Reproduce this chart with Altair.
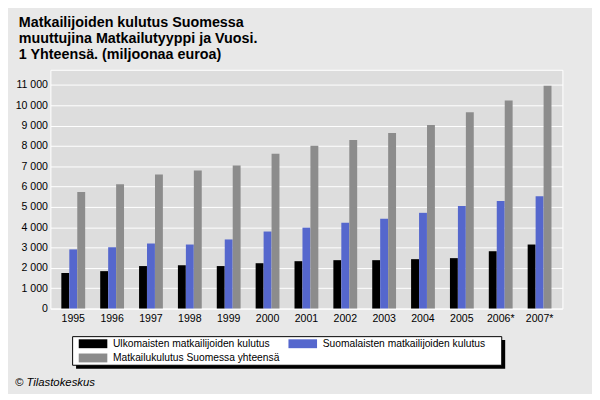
import altair as alt
import pandas as pd

years = ["1995", "1996", "1997", "1998", "1999", "2000", "2001", "2002",
         "2003", "2004", "2005", "2006*", "2007*"]
series = ["Ulkomaisten matkailijoiden kulutus",
          "Suomalaisten matkailijoiden kulutus",
          "Matkailukulutus Suomessa yhteensä"]
ulkomaiset = [1750, 1840, 2090, 2130, 2090, 2230, 2330, 2380, 2380, 2430, 2480, 2820, 3150]
suomalaiset = [2910, 3010, 3200, 3150, 3400, 3790, 3980, 4220, 4420, 4710, 5050, 5290, 5530]
yhteensa = [5730, 6120, 6600, 6790, 7040, 7620, 8010, 8300, 8640, 9030, 9660, 10240, 10970]
colors = ["#000000", "#5567cd", "#8c8c8c"]
y_ticks = [0, 1000, 2000, 3000, 4000, 5000, 6000, 7000, 8000, 9000, 10000, 11000]
title_lines = ["Matkailijoiden kulutus Suomessa",
               "muuttujina Matkailutyyppi ja Vuosi.",
               "1 Yhteensä. (miljoonaa euroa)"]
footer = "© Tilastokeskus"

rows = []
for s, vals in zip(series, [ulkomaiset, suomalaiset, yhteensa]):
    for yv, v in zip(years, vals):
        rows.append({"Vuosi": yv, "Sarja": s, "Arvo": v})
df = pd.DataFrame(rows)

FONT = "Liberation Sans"

bars = alt.Chart(df).mark_bar(size=8).encode(
    x=alt.X("Vuosi:N", sort=years, title=None,
            scale=alt.Scale(paddingInner=0.385, paddingOuter=0.28),
            axis=alt.Axis(labelAngle=0, ticks=False, domain=False, grid=False,
                          labelFont=FONT, labelFontSize=10.7, labelColor="#000000",
                          labelPadding=5)),
    xOffset=alt.XOffset("Sarja:N", sort=series,
                        scale=alt.Scale(paddingInner=0, paddingOuter=0)),
    y=alt.Y("Arvo:Q", title=None,
            scale=alt.Scale(domain=[0, 11750], nice=False),
            axis=alt.Axis(values=y_ticks, ticks=False, domain=False,
                          gridColor="#ffffff", gridWidth=1, gridOpacity=1,
                          labelFont=FONT, labelFontSize=10.7, labelColor="#000000",
                          labelPadding=3,
                          labelExpr="replace(format(datum.value, ','), ',', ' ')")),
    color=alt.Color("Sarja:N", sort=series,
                    scale=alt.Scale(domain=series, range=colors),
                    legend=alt.Legend(
                        title=None, orient="none", legendX=22, legendY=266.3,
                        columns=2, direction="horizontal",
                        columnPadding=7.6, rowPadding=3.6,
                        symbolType="M-1,-1H5.44V1H-1Z", symbolSize=81,
                        symbolStrokeWidth=0, labelOffset=25, labelLimit=0,
                        labelFont=FONT, labelFontSize=10.4, labelColor="#000000",
                        padding=6)),
)

one = pd.DataFrame({"t": [footer]})
shadow = alt.Chart(one).mark_rect(color="#000000").encode(
    x=alt.value(26), x2=alt.value(461), y=alt.value(274), y2=alt.value(303)
)
legend_box = alt.Chart(one).mark_rect(
    fill="#ffffff", stroke="#000000", strokeWidth=1
).encode(
    x=alt.value(22.5), x2=alt.value(457.5), y=alt.value(270.5), y2=alt.value(299.5)
)
foot = alt.Chart(one).mark_text(
    align="left", baseline="alphabetic", font=FONT, fontSize=11.5,
    fontStyle="italic", color="#000000"
).encode(text="t:N", x=alt.value(-36), y=alt.value(321))

chart = alt.layer(shadow, legend_box, bars, foot).properties(
    width=519, height=242,
    title=alt.TitleParams(text=title_lines, anchor="start", frame="group",
                          dx=-32, dy=1, font=FONT, fontSize=14.5, fontWeight="bold",
                          lineHeight=16.2, color="#000000", offset=8),
    autosize=alt.AutoSizeParams(type="none"),
    padding={"left": 43, "top": 60, "right": 30, "bottom": 84},
).configure(background="#e8e8e8").configure_view(
    fill="#dddddd", stroke="#ffffff", strokeWidth=1
)

chart.save("out.html", embed_options={"renderer": "svg", "actions": False})
